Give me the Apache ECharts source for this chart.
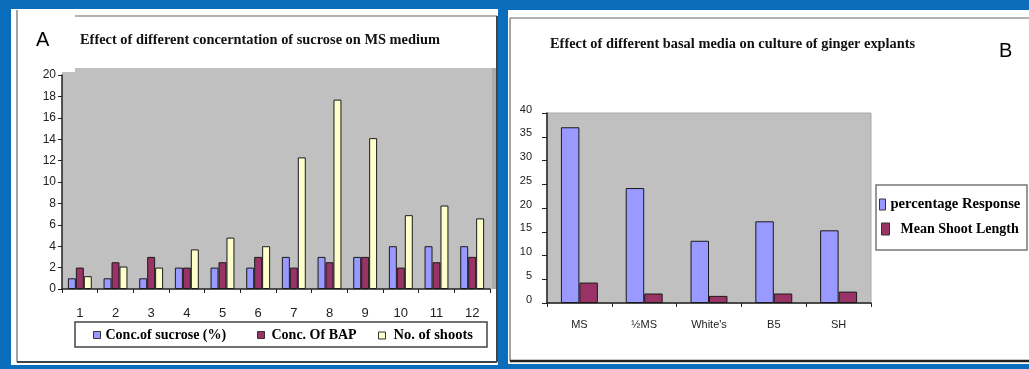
<!DOCTYPE html>
<html>
<head>
<meta charset="utf-8">
<script src="https://cdn.jsdelivr.net/npm/echarts@6/dist/echarts.min.js"></script>
<style>
  html, body { margin: 0; padding: 0; background: #0a6ebd; }
  #chart { width: 1029px; height: 369px; }
</style>
</head>
<body>
<div id="chart"></div>
<script>
// Panel A: sucrose / BAP treatments
const treatments = ['1', '2', '3', '4', '5', '6', '7', '8', '9', '10', '11', '12'];
const sucroseConc = [1, 1, 1, 2, 2, 2, 3, 3, 3, 4, 4, 4];
const bapConc = [2, 2.5, 3, 2, 2.5, 3, 2, 2.5, 3, 2, 2.5, 3];
const shootCount = [1.2, 2.1, 2, 3.7, 4.8, 4, 12.3, 17.7, 14.1, 6.9, 7.8, 6.6];

// Panel B: basal media
const media = ['MS', '½MS', "White's", 'B5', 'SH'];
const responsePct = [37, 24.2, 13.1, 17.2, 15.3];
const shootLength = [4.3, 2, 1.5, 2, 2.4];

const BLUE = '#9999ff', PLUM = '#993366', CREAM = '#ffffcc';
const serif = '"Liberation Serif", "Times New Roman", serif';
const sans = '"Liberation Sans", Arial, sans-serif';

const chart = echarts.init(document.getElementById('chart'), null, { renderer: 'canvas' });

const barStyle = (c) => ({ color: c, borderColor: '#1a1a1a', borderWidth: 1 });
const legendText = (size, extra) => Object.assign({ fontFamily: serif, fontWeight: 'bold', fontSize: size, color: '#000' }, extra || {});
const legendItem = (name, left, top, w, h, text) => ({
  data: [name], left: left, top: top, padding: 0,
  itemWidth: w, itemHeight: h, icon: 'rect',
  itemStyle: { borderColor: '#333', borderWidth: 1 },
  selectedMode: false,
  textStyle: text
});

chart.setOption({
  animation: false,
  backgroundColor: '#0a6ebd',
  graphic: [
    // white panels
    { type: 'rect', z: -10, shape: { x: 11, y: 9, width: 487, height: 356 }, style: { fill: '#fff' } },
    { type: 'rect', z: -10, shape: { x: 508, y: 10, width: 521, height: 354 }, style: { fill: '#fff' } },
    // panel A frame
    { type: 'line', z: -9, shape: { x1: 17, y1: 10, x2: 17, y2: 362 }, style: { stroke: '#666', lineWidth: 1.2 } },
    { type: 'line', z: -9, shape: { x1: 75, y1: 16, x2: 497, y2: 16 }, style: { stroke: '#666', lineWidth: 1.2 } },
    { type: 'line', z: -9, shape: { x1: 497, y1: 16, x2: 497, y2: 362 }, style: { stroke: '#444', lineWidth: 2 } },
    { type: 'line', z: -9, shape: { x1: 17, y1: 362, x2: 497, y2: 362 }, style: { stroke: '#444', lineWidth: 2 } },
    // panel A plot wall
    { type: 'rect', z: -8, shape: { x: 75, y: 68, width: 421, height: 221 }, style: { fill: '#c0c0c0' } },
    { type: 'rect', z: -8, shape: { x: 62, y: 72, width: 14, height: 217 }, style: { fill: '#c0c0c0' } },
    { type: 'rect', z: -8, shape: { x: 492, y: 68, width: 4, height: 221 }, style: { fill: '#acacac' } },
    // panel B frame
    { type: 'line', z: -9, shape: { x1: 510, y1: 18, x2: 510, y2: 361 }, style: { stroke: '#666', lineWidth: 1.2 } },
    { type: 'line', z: -9, shape: { x1: 510, y1: 18, x2: 1029, y2: 18 }, style: { stroke: '#666', lineWidth: 1.2 } },
    { type: 'line', z: -9, shape: { x1: 510, y1: 361, x2: 1029, y2: 361 }, style: { stroke: '#222', lineWidth: 2.5 } },
    // legend boxes
    { type: 'rect', z: -5, shape: { x: 75, y: 322, width: 412, height: 25 }, style: { fill: '#fff', stroke: '#444', lineWidth: 1.5 } },
    { type: 'rect', z: -5, shape: { x: 876, y: 185, width: 151, height: 65 }, style: { fill: '#fff', stroke: '#777', lineWidth: 1.5 } },
    // panel letters
    { type: 'text', z: 5, x: 36, y: 40, style: { text: 'A', font: '20px ' + sans, fill: '#000', textVerticalAlign: 'middle' } },
    { type: 'text', z: 5, x: 999, y: 51, style: { text: 'B', font: '20px ' + sans, fill: '#000', textVerticalAlign: 'middle' } }
  ],
  title: [
    { text: 'Effect of different concerntation of sucrose on MS medium', left: 80, top: 33, padding: 0,
      textStyle: { fontFamily: serif, fontWeight: 'bold', fontSize: 14.4, color: '#111' } },
    { text: 'Effect of different basal media on culture of ginger explants', left: 550, top: 37, padding: 0,
      textStyle: { fontFamily: serif, fontWeight: 'bold', fontSize: 14.4, color: '#111' } }
  ],
  legend: [
    legendItem('Conc.of sucrose (%)', 93, 328, 7, 7, legendText(14)),
    legendItem('Conc. Of BAP', 257, 328, 7, 7, legendText(14, { padding: [0, 0, 0, 2] })),
    legendItem('No. of shoots', 378, 328, 7, 7, legendText(14.5, { padding: [0, 0, 0, 3] })),
    legendItem('percentage Response', 879, 197, 6, 11, legendText(14.6)),
    legendItem('Mean Shoot Length', 881, 222, 8, 12, legendText(14, { padding: [0, 0, 0, 6] }))
  ],
  grid: [
    { left: 62, right: 539, top: 75, bottom: 80 },
    { left: 547, right: 158, top: 113, bottom: 66, show: true, backgroundColor: '#c0c0c0', borderColor: '#a8a8a8', borderWidth: 1 }
  ],
  xAxis: [
    { type: 'category', gridIndex: 0, data: treatments,
      axisLine: { lineStyle: { color: '#222', width: 1.5 } },
      axisTick: { show: true, length: 4, lineStyle: { color: '#222' } },
      axisLabel: { margin: 18, fontFamily: sans, fontSize: 13, color: '#222' } },
    { type: 'category', gridIndex: 1, data: media,
      axisLine: { lineStyle: { color: '#222', width: 1.5 } },
      axisTick: { show: true, length: 4, lineStyle: { color: '#222' } },
      axisLabel: { margin: 16, fontFamily: sans, fontSize: 11, color: '#222' } }
  ],
  yAxis: [
    { type: 'value', gridIndex: 0, min: 0, max: 20, interval: 2,
      splitLine: { show: false },
      axisLine: { show: true, lineStyle: { color: '#222', width: 1.5 } },
      axisTick: { show: true, length: 4, lineStyle: { color: '#222' } },
      axisLabel: { margin: 6, fontFamily: sans, fontSize: 12, color: '#222' } },
    { type: 'value', gridIndex: 1, min: 0, max: 40, interval: 5,
      splitLine: { show: false },
      axisLine: { show: true, lineStyle: { color: '#222', width: 1.5 } },
      axisTick: { show: true, length: 5, lineStyle: { color: '#222' } },
      axisLabel: { margin: 15, fontFamily: sans, fontSize: 11, color: '#222', verticalAlign: 'bottom', lineHeight: 7 } }
  ],
  series: [
    { name: 'Conc.of sucrose (%)', type: 'bar', xAxisIndex: 0, yAxisIndex: 0, data: sucroseConc,
      barGap: '0%', barCategoryGap: '33%', itemStyle: barStyle(BLUE) },
    { name: 'Conc. Of BAP', type: 'bar', xAxisIndex: 0, yAxisIndex: 0, data: bapConc,
      barGap: '0%', barCategoryGap: '33%', itemStyle: barStyle(PLUM) },
    { name: 'No. of shoots', type: 'bar', xAxisIndex: 0, yAxisIndex: 0, data: shootCount,
      barGap: '0%', barCategoryGap: '33%', itemStyle: barStyle(CREAM) },
    { name: 'percentage Response', type: 'bar', xAxisIndex: 1, yAxisIndex: 1, data: responsePct,
      barGap: '0%', barCategoryGap: '43%', itemStyle: barStyle(BLUE) },
    { name: 'Mean Shoot Length', type: 'bar', xAxisIndex: 1, yAxisIndex: 1, data: shootLength,
      barGap: '0%', barCategoryGap: '43%', itemStyle: barStyle(PLUM) }
  ]
});
</script>
</body>
</html>
